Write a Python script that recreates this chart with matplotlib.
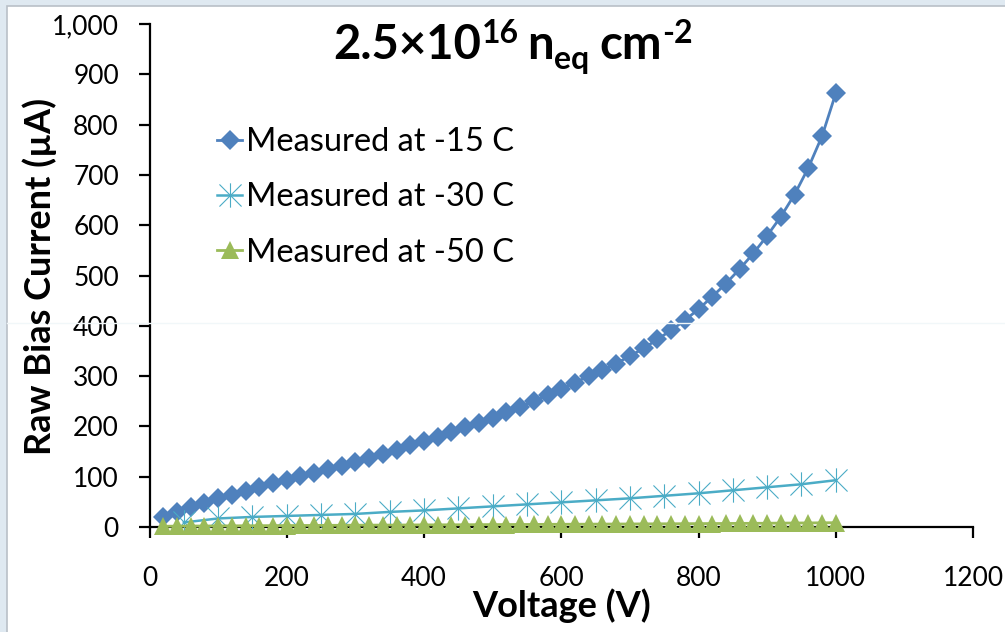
import matplotlib
matplotlib.use("Agg")
import matplotlib.pyplot as plt
from matplotlib.patches import Rectangle
from matplotlib.path import Path
from matplotlib.lines import Line2D
from matplotlib.ticker import FuncFormatter, FixedLocator

plt.rcParams['font.family'] = ['Lato', 'DejaVu Sans']

# ---- data -------------------------------------------------------------
volts_fine = [20, 40, 60, 80, 100, 120, 140, 160, 180, 200,
              220, 240, 260, 280, 300, 320, 340, 360, 380, 400,
              420, 440, 460, 480, 500, 520, 540, 560, 580, 600,
              620, 640, 660, 680, 700, 720, 740, 760, 780, 800,
              820, 840, 860, 880, 900, 920, 940, 960, 980, 1000]

current_m15 = [19, 30, 40, 48, 57, 64, 72, 80, 87, 93,
               101, 108, 115, 121, 130, 137, 146, 154, 163, 171,
               179, 188, 198, 207, 217, 229, 239, 250, 262, 275,
               287, 300, 312, 325, 340, 355, 373, 391, 411, 433,
               458, 484, 513, 544, 579, 617, 661, 714, 777, 862]

volts_coarse = [50, 100, 150, 200, 250, 300, 350, 400, 450, 500,
                550, 600, 650, 700, 750, 800, 850, 900, 950, 1000]

current_m30 = [9, 17, 20, 22, 24, 26, 30, 33, 37, 41,
               45, 49, 53, 57, 62, 67, 73, 79, 85, 93]

current_m50 = [1.5, 1.7, 1.9, 2.0, 2.2, 2.3, 2.5, 2.6, 2.8, 2.9,
               3.0, 3.2, 3.3, 3.4, 3.6, 3.7, 3.8, 3.9, 4.1, 4.2,
               4.3, 4.4, 4.5, 4.7, 4.8, 4.9, 5.0, 5.1, 5.3, 5.4,
               5.5, 5.6, 5.8, 5.9, 6.0, 6.2, 6.3, 6.4, 6.6, 6.7,
               6.9, 7.0, 7.2, 7.3, 7.5, 7.7, 7.9, 8.1, 8.3, 8.6]

series_labels = ["Measured at -15 C", "Measured at -30 C", "Measured at -50 C"]
x_ticks = [0, 200, 400, 600, 800, 1000, 1200]
y_ticks = [0, 100, 200, 300, 400, 500, 600, 700, 800, 900, 1000]

BLUE = "#4F81BD"
AQUA = "#4BACC6"
GREEN = "#9BBB59"

# six-armed asterisk marker (an "x" crossed with a vertical bar)
asterisk = Path([(-0.5, -0.5), (0.5, 0.5), (-0.5, 0.5), (0.5, -0.5),
                 (0.0, -0.55), (0.0, 0.55)],
                [Path.MOVETO, Path.LINETO, Path.MOVETO, Path.LINETO,
                 Path.MOVETO, Path.LINETO])

# ---- figure -----------------------------------------------------------
W, H = 1005, 632
fig = plt.figure(figsize=(W / 100, H / 100), dpi=100)
fig.patch.set_facecolor("#dfe9f1")
fig.add_artist(Rectangle((7 / W, -0.05), 1.2, 1 - 6 / H + 0.05,
                         transform=fig.transFigure, facecolor="white",
                         edgecolor="#b9c0c7", lw=1.2, zorder=0))
fig.add_artist(Line2D([7 / W, 1], [1 - 323 / H, 1 - 323 / H],
                      transform=fig.transFigure, color="#f1f7f9", lw=1, zorder=0.5))

ax = fig.add_axes([149.5 / W, 105 / H, 823.5 / W, 503 / H])
ax.set_facecolor("none")

ax.plot(volts_fine, current_m15, color=BLUE, lw=2.0, marker="D",
        markersize=10.5, markeredgewidth=0, label=series_labels[0],
        clip_on=False, zorder=3)
ax.plot(volts_coarse, current_m30, color=AQUA, lw=1.8, marker=asterisk,
        markersize=17.5, markeredgewidth=0.8, markeredgecolor=AQUA,
        markerfacecolor="none", label=series_labels[1], clip_on=False, zorder=4)
ax.plot(volts_fine, current_m50, color=GREEN, lw=2.0, marker="^",
        markersize=13.5, markeredgewidth=0, label=series_labels[2],
        clip_on=False, zorder=5)

ax.set_xlim(0, 1200)
ax.set_ylim(0, 1000)
ax.xaxis.set_major_locator(FixedLocator(x_ticks))
ax.yaxis.set_major_locator(FixedLocator(y_ticks))
ax.yaxis.set_major_formatter(FuncFormatter(lambda v, p: f"{v:,.0f}"))

for side in ("top", "right"):
    ax.spines[side].set_visible(False)
for side in ("left", "bottom"):
    ax.spines[side].set_linewidth(1.6)
    ax.spines[side].set_color("black")
ax.tick_params(axis="both", direction="out", length=8, width=1.6,
               labelsize=19, colors="black")
ax.tick_params(axis="x", pad=20)
ax.tick_params(axis="y", pad=14)

fig.text(40 / W, 1 - 276 / H, "Raw Bias Current (\u00b5A)", rotation=90,
         ha="center", va="center", fontsize=26, fontweight="bold")
fig.text(562 / W, 1 - 606 / H, "Voltage (V)", ha="center", va="center",
         fontsize=26, fontweight="bold")

# title assembled from runs so the super/subscripts keep plain hyphens
title_runs = [("2.5\u00d710", 34, 0, 0), ("16", 23, 16, 9),
              ("n", 34, 0, 0), ("eq", 23, -10, 10),
              ("cm", 34, 0, 0), ("-2", 23, 16, 0)]
renderer = fig.canvas.get_renderer()
texts, widths = [], []
for s, size, dy, gap in title_runs:
    t = fig.text(0, 0, s, fontsize=size, fontweight="bold",
                 ha="left", va="baseline")
    texts.append(t)
    widths.append(t.get_window_extent(renderer).width + gap)
x = 513 - sum(widths) / 2
for t, wdt, (s, size, dy, gap) in zip(texts, widths, title_runs):
    t.set_position((x / W, 1 - (59 - dy) / H))
    x += wdt

ax.legend(loc="upper left", bbox_to_anchor=(217 / W, 1 - 127 / H),
          bbox_transform=fig.transFigure, frameon=False, fontsize=23.5,
          handlelength=0.78, handletextpad=0.12, labelspacing=0.78,
          borderpad=0, borderaxespad=0)

fig.savefig("out.png", dpi=100, facecolor=fig.get_facecolor())
